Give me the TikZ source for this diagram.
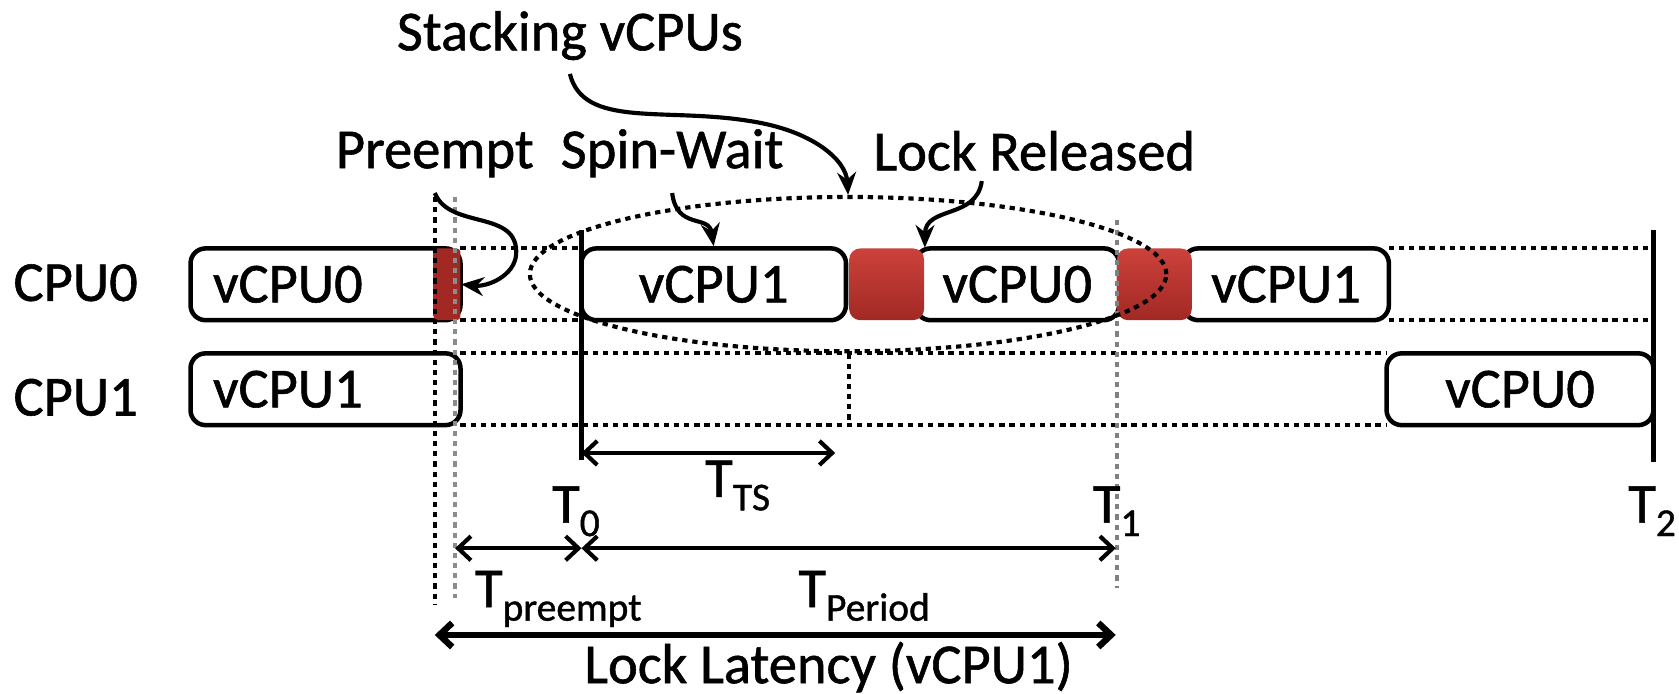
\documentclass[tikz,border=0pt]{standalone}
\usepackage{fontspec}
\setmainfont{Carlito}[FakeBold=1]
\usepackage{xcolor}
\definecolor{lockred}{RGB}{204,66,60}
\definecolor{lockdark}{RGB}{162,40,36}
\usepackage{tikz}
\usetikzlibrary{arrows.meta,shapes.geometric}
\tikzstyle{slot} = [draw, fill=white, rounded corners=4pt, line width=1.2pt,
  minimum height=0.67cm, inner sep=0pt]
\tikzstyle{held} = [rounded corners=3pt, top color=lockred, bottom color=lockdark,
  minimum height=0.67cm, inner sep=0pt]
\tikzstyle{idle} = [line width=1.1pt, dash pattern=on 1.4pt off 1.3pt]
\tikzstyle{interval} = [line width=1.1pt, <->]
\tikzstyle{callout} = [line width=1.1pt, -{Stealth[length=6pt,width=5pt]}]
\tikzstyle{lbl} = [anchor=base west, inner sep=0pt]
\newcommand{\Tsub}[1]{T\raisebox{-0.5ex}{\fontsize{10.5}{12}\selectfont #1}}

\begin{document}
\begin{tikzpicture}[x=0.01cm, y=-0.01cm,
  >={Straight Barb[length=3.4pt,width=6.4pt]},
  font=\fontsize{15}{18}\selectfont]
  \useasboundingbox (0,0) rectangle (1568,648);

  % idle time on both cpus
  \draw[idle] (430,232) -- (543,232) (430,299) -- (543,299);
  \draw[idle] (1297,232) -- (1544,232) (1297,299) -- (1544,299);
  \draw[idle] (430,330) -- (1295,330) (430,397) -- (1295,397);
  \draw[idle] (793,330) -- (793,397);

  \node[lbl] (cpu0) at (12,281) {CPU0};
  \node[lbl] (cpu1) at (12,388) {CPU1};

  % CPU0 schedule
  \node[slot, minimum width=2.52cm, text width=2.1cm, align=left] (run00) at (304,265.5) {vCPU0};
  \node[held, minimum width=0.25cm, rounded corners=1pt, top color=lockdark] (pre0) at (417.5,265.5) {};
  \node[slot, minimum width=2.47cm] (run01) at (666.5,265.5) {vCPU1};
  \node[slot, minimum width=1.90cm] (run02) at (950,265.5) {vCPU0};
  \node[held, minimum width=0.70cm] (rel0) at (828,265.5) {};
  \node[slot, minimum width=1.92cm] (run03) at (1201,265.5) {vCPU1};
  \node[held, minimum width=0.70cm] (rel1) at (1078,265.5) {};

  % CPU1 schedule
  \node[slot, minimum width=2.52cm, text width=2.1cm, align=left] (run10) at (304,363.5) {vCPU1};
  \node[slot, minimum width=2.49cm] (run11) at (1419.5,363.5) {vCPU0};

  % time markers
  \draw[idle] (406,184) -- (406,564);
  \draw[idle, black!45] (425,184) -- (425,558);
  \draw[idle, black!50] (1043,205) -- (1043,549);
  \draw[line width=1.3pt] (543,215) -- (543,430);
  \draw[line width=1.3pt] (1544,215) -- (1544,431);

  \node[draw, idle, ellipse, minimum width=5.94cm, minimum height=1.44cm] (stackring) at (792,256) {};

  \node[lbl] (stack) at (370,47) {Stacking vCPUs};
  \node[lbl] (preempt) at (313,157) {Preempt};
  \node[lbl] (spin) at (523,157) {Spin-Wait};
  \node[lbl] (release) at (815,159) {Lock Released};

  \draw[callout] ([yshift=-3.5pt]stack.south) .. controls (545,120) and (620,100) .. (700,113)
    .. controls (760,122) and (790,150) .. (stackring.north);
  \draw[callout] ([yshift=-4pt]preempt.south) .. controls (420,215) and (485,195) .. (482,238)
    .. controls (480,258) and (455,268) .. (pre0.east);
  \draw[callout] ([yshift=-4pt]spin.south) .. controls (632,215) and (662,200) .. (run01.north);
  \draw[callout] ([shift={(-49,9)}]release.south) .. controls (912,205) and (864,192) .. (rel0.north east);

  % intervals
  \coordinate (ts0) at (543,423);
  \coordinate (ts1) at (780,423);
  \coordinate (p0) at (425,512);
  \coordinate (p1) at (543,512);
  \coordinate (p2) at (1042,512);
  \coordinate (l0) at (406,593);
  \coordinate (l1) at (1042,593);
  \draw[interval] (ts0) -- (ts1);
  \draw[interval] (p0) -- (p1);
  \draw[interval] (p1) -- (p2);
  \draw[interval, line width=1.7pt] (l0) -- (l1);

  \node[lbl] (tts) at (658,464) {\Tsub{TS}};
  \node[lbl] (t0) at (515,488) {\Tsub{0}};
  \node[lbl] (t1) at (1020,488) {\Tsub{1}};
  \node[lbl] (t2) at (1520,488) {\Tsub{2}};
  \node[lbl] (tpre) at (443,567) {\Tsub{preempt}};
  \node[lbl] (tper) at (745,567) {\Tsub{Period}};
  \node[lbl] (lat) at (545,638) {Lock Latency (vCPU1)};
\end{tikzpicture}
\end{document}
